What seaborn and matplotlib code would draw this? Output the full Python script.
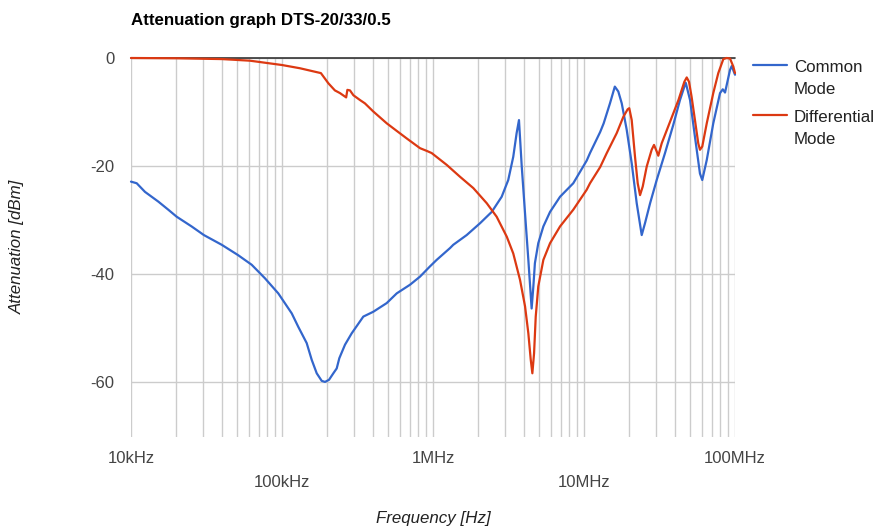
import numpy as np
import pandas as pd
import seaborn as sns
import matplotlib.pyplot as plt
from matplotlib.lines import Line2D
from matplotlib.ticker import LogLocator, NullFormatter

# Common mode attenuation (frequency in Hz, attenuation in dB)
cm_freq = [1.0e4, 1.091e4, 1.238e4, 1.517e4, 1.766e4, 2.007e4, 2.52e4, 3.04e4, 3.99e4,
           5.11e4, 6.30e4, 7.71e4, 9.45e4, 1.16e5, 1.282e5, 1.457e5, 1.573e5, 1.698e5,
           1.832e5, 1.927e5, 2.049e5, 2.188e5, 2.303e5, 2.397e5, 2.614e5, 2.894e5, 3.455e5,
           4.024e5, 4.935e5, 5.75e5, 7.04e5, 8.20e5, 9.55e5, 1.057e6, 1.297e6, 1.362e6,
           1.671e6, 2.05e6, 2.45e6, 2.85e6, 3.15e6, 3.40e6, 3.58e6, 3.71e6, 3.87e6,
           4.07e6, 4.28e6, 4.50e6, 4.62e6, 4.73e6, 4.98e6, 5.38e6, 5.96e6, 6.94e6,
           8.49e6, 1.042e7, 1.096e7, 1.28e7, 1.35e7, 1.486e7, 1.60e7, 1.687e7, 1.778e7,
           1.918e7, 2.070e7, 2.234e7, 2.411e7, 2.535e7, 2.74e7, 3.03e7, 3.44e7, 3.90e7,
           4.32e7, 4.62e7, 4.72e7, 5.04e7, 5.43e7, 5.86e7, 6.07e7, 6.50e7, 7.18e7,
           7.96e7, 8.30e7, 8.59e7, 9.27e7, 9.51e7, 1.0e8]
cm_db = [-22.9, -23.2, -24.8, -26.6, -28.1, -29.4, -31.2, -32.8, -34.6,
         -36.5, -38.3, -40.8, -43.6, -47.3, -49.8, -52.8, -55.9, -58.4,
         -59.8, -60.0, -59.6, -58.4, -57.5, -55.6, -53.1, -51.0, -47.9,
         -47.0, -45.4, -43.6, -42.0, -40.5, -38.6, -37.4, -35.2, -34.6,
         -32.8, -30.6, -28.5, -25.7, -22.6, -18.3, -13.9, -11.5, -20.1,
         -28.8, -37.4, -46.4, -42.3, -38.0, -34.3, -31.2, -28.5, -25.7,
         -23.2, -19.0, -17.6, -13.7, -12.1, -8.4, -5.3, -6.2, -8.4,
         -13.3, -19.5, -26.9, -32.8, -30.6, -26.9, -22.6, -17.6, -12.4,
         -7.8, -5.3, -4.6, -7.8, -14.6, -21.4, -22.6, -18.9, -12.1,
         -6.5, -5.8, -6.4, -2.2, -1.5, -3.1]

# Differential mode attenuation
dm_freq = [1.0e4, 2.0e4, 4.0e4, 6.14e4, 1.0e5, 1.315e5, 1.81e5, 2.03e5, 2.24e5,
           2.42e5, 2.66e5, 2.71e5, 2.82e5, 2.97e5, 3.29e5, 3.54e5, 4.02e5, 4.94e5,
           5.75e5, 6.70e5, 8.20e5, 9.08e5, 9.79e5, 1.233e6, 1.51e6, 1.85e6, 2.27e6,
           2.64e6, 3.08e6, 3.40e6, 3.77e6, 4.07e6, 4.28e6, 4.44e6, 4.55e6, 4.67e6,
           4.79e6, 4.98e6, 5.38e6, 5.96e6, 6.94e6, 8.49e6, 1.042e7, 1.096e7, 1.28e7,
           1.41e7, 1.648e7, 1.821e7, 1.946e7, 1.994e7, 2.07e7, 2.177e7, 2.268e7, 2.35e7,
           2.449e7, 2.602e7, 2.806e7, 2.908e7, 3.03e7, 3.105e7, 3.27e7, 3.715e7, 4.22e7,
           4.62e7, 4.79e7, 4.96e7, 5.16e7, 5.43e7, 5.71e7, 5.86e7, 6.07e7, 6.50e7,
           7.18e7, 7.75e7, 8.37e7, 8.81e7, 9.27e7, 9.75e7, 1.0e8]
dm_db = [0.0, -0.05, -0.2, -0.5, -1.3, -1.9, -2.8, -4.7, -6.0,
         -6.5, -7.3, -5.9, -6.0, -6.9, -7.8, -8.4, -9.9, -12.1,
         -13.5, -14.9, -16.7, -17.2, -17.6, -19.8, -22.0, -24.1, -26.9,
         -29.4, -33.1, -36.2, -41.1, -46.0, -51.0, -55.9, -58.4, -54.7,
         -47.9, -42.3, -37.4, -34.3, -31.2, -28.1, -24.4, -23.2, -20.2,
         -17.7, -13.9, -10.9, -9.5, -9.3, -11.5, -18.3, -23.2, -25.4,
         -23.8, -20.1, -17.0, -16.1, -17.3, -18.1, -15.8, -11.8, -7.8,
         -4.4, -3.6, -4.4, -7.2, -11.5, -15.8, -17.0, -16.4, -12.1,
         -6.5, -2.8, -0.2, 0.0, -0.1, -1.6, -2.8]

series = ["Common\nMode", "Differential\nMode"]
colors = ["#3366cc", "#dc3912"]
x_ticks = [1e4, 1e5, 1e6, 1e7, 1e8]
x_labels = ["10kHz", "\n100kHz", "1MHz", "\n10MHz", "100MHz"]
y_ticks = [0, -20, -40, -60]

df = pd.concat([
    pd.DataFrame({"freq": cm_freq, "db": cm_db, "mode": series[0]}),
    pd.DataFrame({"freq": dm_freq, "db": dm_db, "mode": series[1]}),
])

sns.set_style("white")
plt.rcParams["font.family"] = ["Liberation Sans", "DejaVu Sans"]
plt.rcParams["axes.unicode_minus"] = False

fig = plt.figure(figsize=(8.81, 5.28), dpi=100)
ax = fig.add_axes([131 / 881, 1 - 437 / 528, 604 / 881, 379 / 528])

sns.lineplot(data=df, x="freq", y="db", hue="mode", palette=colors,
             estimator=None, sort=False, linewidth=1.6, legend=False, ax=ax, zorder=3)
for ln in ax.get_lines():
    ln.set_clip_on(False)
    ln.set_solid_joinstyle("round")

ax.set_xscale("log")
ax.set_xlim(1e4, 1e8)
ax.set_ylim(-70.2, 0)
ax.set_xticks(x_ticks)
ax.set_xticklabels(x_labels)
ax.xaxis.set_minor_locator(LogLocator(base=10, subs=np.arange(2, 10)))
ax.xaxis.set_minor_formatter(NullFormatter())
ax.set_yticks(y_ticks)

ax.grid(True, which="both", axis="x", color="#cccccc", linewidth=1, zorder=0)
ax.grid(True, which="major", axis="y", color="#cccccc", linewidth=1, zorder=0)
ax.axhline(0, color="#333333", linewidth=1.2, zorder=2, clip_on=False)
for s in ax.spines.values():
    s.set_visible(False)

ax.tick_params(axis="both", which="both", length=0)
ax.tick_params(axis="x", pad=10, labelsize=12, labelcolor="#444444")
ax.tick_params(axis="y", pad=12, labelsize=12, labelcolor="#444444")
for lbl in ax.get_xticklabels():
    lbl.set_linespacing(1.75)

ax.set_xlabel("")
ax.set_ylabel("")
fig.text(433 / 881, 1 - 519 / 528, "Frequency [Hz]", ha="center", va="center",
         fontsize=12.2, style="italic", color="#222222")
fig.text(17 / 881, 1 - 247 / 528, "Attenuation [dBm]", ha="center", va="center",
         rotation=90, fontsize=12.2, style="italic", color="#222222")
fig.text(131 / 881, 1 - 21 / 528, "Attenuation graph DTS-20/33/0.5", ha="left",
         va="center", fontsize=12.2, fontweight="bold", color="#000000")

# legend drawn to the right, handle aligned with first text line
legend_y = [65, 115]
for name, col, y0 in zip(series, colors, legend_y):
    fig.add_artist(Line2D([753 / 881, 787 / 881], [1 - y0 / 528, 1 - y0 / 528],
                          color=col, linewidth=1.6))
    for k, part in enumerate(name.split("\n")):
        fig.text(794 / 881, 1 - (y0 + 7 + 22 * k) / 528, part, ha="left",
                 va="baseline", fontsize=12.2, color="#222222")

fig.savefig("out.png", dpi=100)
